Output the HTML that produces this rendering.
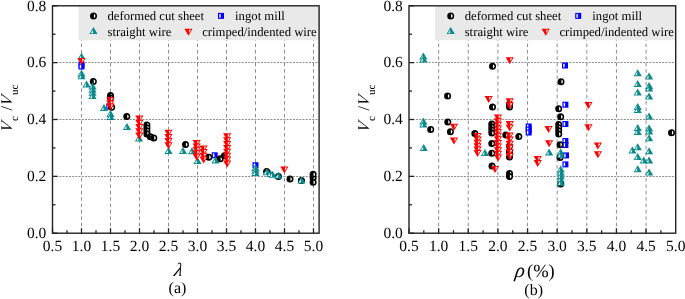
<!DOCTYPE html><html><head><meta charset="utf-8"><style>html,body{margin:0;padding:0;background:#fff;width:685px;height:299px;overflow:hidden}svg{display:block;will-change:transform}</style></head><body><svg width="685" height="299" viewBox="0 0 685 299" font-family="&quot;Liberation Serif&quot;, serif" text-rendering="geometricPrecision"><rect width="685" height="299" fill="#fff"/><line x1="81.50" y1="233.20" x2="81.50" y2="5.80" stroke="#8c8c8c" stroke-width="1" stroke-dasharray="3.5,2.9" stroke-dashoffset="-0.5"/><line x1="110.50" y1="233.20" x2="110.50" y2="5.80" stroke="#8c8c8c" stroke-width="1" stroke-dasharray="3.5,2.9" stroke-dashoffset="-0.5"/><line x1="139.50" y1="233.20" x2="139.50" y2="5.80" stroke="#8c8c8c" stroke-width="1" stroke-dasharray="3.5,2.9" stroke-dashoffset="-0.5"/><line x1="168.50" y1="233.20" x2="168.50" y2="5.80" stroke="#8c8c8c" stroke-width="1" stroke-dasharray="3.5,2.9" stroke-dashoffset="-0.5"/><line x1="197.50" y1="233.20" x2="197.50" y2="5.80" stroke="#8c8c8c" stroke-width="1" stroke-dasharray="3.5,2.9" stroke-dashoffset="-0.5"/><line x1="226.50" y1="233.20" x2="226.50" y2="5.80" stroke="#8c8c8c" stroke-width="1" stroke-dasharray="3.5,2.9" stroke-dashoffset="-0.5"/><line x1="255.50" y1="233.20" x2="255.50" y2="5.80" stroke="#8c8c8c" stroke-width="1" stroke-dasharray="3.5,2.9" stroke-dashoffset="-0.5"/><line x1="284.50" y1="233.20" x2="284.50" y2="5.80" stroke="#8c8c8c" stroke-width="1" stroke-dasharray="3.5,2.9" stroke-dashoffset="-0.5"/><line x1="313.50" y1="233.20" x2="313.50" y2="5.80" stroke="#8c8c8c" stroke-width="1" stroke-dasharray="3.5,2.9" stroke-dashoffset="-0.5"/><line x1="53.00" y1="176.50" x2="319.10" y2="176.50" stroke="#8c8c8c" stroke-width="1" stroke-dasharray="2,1.2"/><line x1="53.00" y1="119.50" x2="319.10" y2="119.50" stroke="#8c8c8c" stroke-width="1" stroke-dasharray="2,1.2"/><line x1="53.00" y1="62.50" x2="319.10" y2="62.50" stroke="#8c8c8c" stroke-width="1" stroke-dasharray="2,1.2"/><rect x="78.50" y="5.80" width="240.60" height="34.40" fill="#e9e9e9"/><line x1="52.50" y1="233.20" x2="57.50" y2="233.20" stroke="#222222" stroke-width="1.3"/><line x1="52.50" y1="204.77" x2="55.50" y2="204.77" stroke="#222222" stroke-width="1.3"/><line x1="52.50" y1="176.35" x2="57.50" y2="176.35" stroke="#222222" stroke-width="1.3"/><line x1="52.50" y1="147.92" x2="55.50" y2="147.92" stroke="#222222" stroke-width="1.3"/><line x1="52.50" y1="119.50" x2="57.50" y2="119.50" stroke="#222222" stroke-width="1.3"/><line x1="52.50" y1="91.07" x2="55.50" y2="91.07" stroke="#222222" stroke-width="1.3"/><line x1="52.50" y1="62.65" x2="57.50" y2="62.65" stroke="#222222" stroke-width="1.3"/><line x1="52.50" y1="34.22" x2="55.50" y2="34.22" stroke="#222222" stroke-width="1.3"/><line x1="52.50" y1="5.80" x2="57.50" y2="5.80" stroke="#222222" stroke-width="1.3"/><line x1="52.50" y1="233.20" x2="52.50" y2="228.20" stroke="#222222" stroke-width="1.3"/><line x1="67.00" y1="233.20" x2="67.00" y2="230.20" stroke="#222222" stroke-width="1.3"/><line x1="81.50" y1="233.20" x2="81.50" y2="228.20" stroke="#222222" stroke-width="1.3"/><line x1="96.00" y1="233.20" x2="96.00" y2="230.20" stroke="#222222" stroke-width="1.3"/><line x1="110.50" y1="233.20" x2="110.50" y2="228.20" stroke="#222222" stroke-width="1.3"/><line x1="125.00" y1="233.20" x2="125.00" y2="230.20" stroke="#222222" stroke-width="1.3"/><line x1="139.50" y1="233.20" x2="139.50" y2="228.20" stroke="#222222" stroke-width="1.3"/><line x1="154.00" y1="233.20" x2="154.00" y2="230.20" stroke="#222222" stroke-width="1.3"/><line x1="168.50" y1="233.20" x2="168.50" y2="228.20" stroke="#222222" stroke-width="1.3"/><line x1="183.00" y1="233.20" x2="183.00" y2="230.20" stroke="#222222" stroke-width="1.3"/><line x1="197.50" y1="233.20" x2="197.50" y2="228.20" stroke="#222222" stroke-width="1.3"/><line x1="212.00" y1="233.20" x2="212.00" y2="230.20" stroke="#222222" stroke-width="1.3"/><line x1="226.50" y1="233.20" x2="226.50" y2="228.20" stroke="#222222" stroke-width="1.3"/><line x1="241.00" y1="233.20" x2="241.00" y2="230.20" stroke="#222222" stroke-width="1.3"/><line x1="255.50" y1="233.20" x2="255.50" y2="228.20" stroke="#222222" stroke-width="1.3"/><line x1="270.00" y1="233.20" x2="270.00" y2="230.20" stroke="#222222" stroke-width="1.3"/><line x1="284.50" y1="233.20" x2="284.50" y2="228.20" stroke="#222222" stroke-width="1.3"/><line x1="299.00" y1="233.20" x2="299.00" y2="230.20" stroke="#222222" stroke-width="1.3"/><line x1="313.50" y1="233.20" x2="313.50" y2="228.20" stroke="#222222" stroke-width="1.3"/><rect x="52.50" y="5.80" width="266.60" height="227.40" fill="none" stroke="#222222" stroke-width="1.4"/><text x="46.30" y="238.00" font-size="15.5" text-anchor="end">0.0</text><text x="46.30" y="181.15" font-size="15.5" text-anchor="end">0.2</text><text x="46.30" y="124.30" font-size="15.5" text-anchor="end">0.4</text><text x="46.30" y="67.45" font-size="15.5" text-anchor="end">0.6</text><text x="46.30" y="10.60" font-size="15.5" text-anchor="end">0.8</text><text x="52.50" y="251.0" font-size="15.5" text-anchor="middle">0.5</text><text x="81.50" y="251.0" font-size="15.5" text-anchor="middle">1.0</text><text x="110.50" y="251.0" font-size="15.5" text-anchor="middle">1.5</text><text x="139.50" y="251.0" font-size="15.5" text-anchor="middle">2.0</text><text x="168.50" y="251.0" font-size="15.5" text-anchor="middle">2.5</text><text x="197.50" y="251.0" font-size="15.5" text-anchor="middle">3.0</text><text x="226.50" y="251.0" font-size="15.5" text-anchor="middle">3.5</text><text x="255.50" y="251.0" font-size="15.5" text-anchor="middle">4.0</text><text x="284.50" y="251.0" font-size="15.5" text-anchor="middle">4.5</text><text x="313.50" y="251.0" font-size="15.5" text-anchor="middle">5.0</text><line x1="438.63" y1="233.20" x2="438.63" y2="5.80" stroke="#8c8c8c" stroke-width="1" stroke-dasharray="3.5,2.9" stroke-dashoffset="-0.5"/><line x1="468.27" y1="233.20" x2="468.27" y2="5.80" stroke="#8c8c8c" stroke-width="1" stroke-dasharray="3.5,2.9" stroke-dashoffset="-0.5"/><line x1="497.90" y1="233.20" x2="497.90" y2="5.80" stroke="#8c8c8c" stroke-width="1" stroke-dasharray="3.5,2.9" stroke-dashoffset="-0.5"/><line x1="527.54" y1="233.20" x2="527.54" y2="5.80" stroke="#8c8c8c" stroke-width="1" stroke-dasharray="3.5,2.9" stroke-dashoffset="-0.5"/><line x1="557.17" y1="233.20" x2="557.17" y2="5.80" stroke="#8c8c8c" stroke-width="1" stroke-dasharray="3.5,2.9" stroke-dashoffset="-0.5"/><line x1="586.81" y1="233.20" x2="586.81" y2="5.80" stroke="#8c8c8c" stroke-width="1" stroke-dasharray="3.5,2.9" stroke-dashoffset="-0.5"/><line x1="616.45" y1="233.20" x2="616.45" y2="5.80" stroke="#8c8c8c" stroke-width="1" stroke-dasharray="3.5,2.9" stroke-dashoffset="-0.5"/><line x1="646.08" y1="233.20" x2="646.08" y2="5.80" stroke="#8c8c8c" stroke-width="1" stroke-dasharray="3.5,2.9" stroke-dashoffset="-0.5"/><line x1="409.50" y1="176.50" x2="675.70" y2="176.50" stroke="#8c8c8c" stroke-width="1" stroke-dasharray="2,1.2"/><line x1="409.50" y1="119.50" x2="675.70" y2="119.50" stroke="#8c8c8c" stroke-width="1" stroke-dasharray="2,1.2"/><line x1="409.50" y1="62.50" x2="675.70" y2="62.50" stroke="#8c8c8c" stroke-width="1" stroke-dasharray="2,1.2"/><rect x="435.00" y="5.80" width="240.70" height="34.40" fill="#e9e9e9"/><line x1="409.00" y1="233.20" x2="414.00" y2="233.20" stroke="#222222" stroke-width="1.3"/><line x1="409.00" y1="204.77" x2="412.00" y2="204.77" stroke="#222222" stroke-width="1.3"/><line x1="409.00" y1="176.35" x2="414.00" y2="176.35" stroke="#222222" stroke-width="1.3"/><line x1="409.00" y1="147.92" x2="412.00" y2="147.92" stroke="#222222" stroke-width="1.3"/><line x1="409.00" y1="119.50" x2="414.00" y2="119.50" stroke="#222222" stroke-width="1.3"/><line x1="409.00" y1="91.07" x2="412.00" y2="91.07" stroke="#222222" stroke-width="1.3"/><line x1="409.00" y1="62.65" x2="414.00" y2="62.65" stroke="#222222" stroke-width="1.3"/><line x1="409.00" y1="34.22" x2="412.00" y2="34.22" stroke="#222222" stroke-width="1.3"/><line x1="409.00" y1="5.80" x2="414.00" y2="5.80" stroke="#222222" stroke-width="1.3"/><line x1="409.00" y1="233.20" x2="409.00" y2="228.20" stroke="#222222" stroke-width="1.3"/><line x1="423.82" y1="233.20" x2="423.82" y2="230.20" stroke="#222222" stroke-width="1.3"/><line x1="438.63" y1="233.20" x2="438.63" y2="228.20" stroke="#222222" stroke-width="1.3"/><line x1="453.45" y1="233.20" x2="453.45" y2="230.20" stroke="#222222" stroke-width="1.3"/><line x1="468.27" y1="233.20" x2="468.27" y2="228.20" stroke="#222222" stroke-width="1.3"/><line x1="483.09" y1="233.20" x2="483.09" y2="230.20" stroke="#222222" stroke-width="1.3"/><line x1="497.90" y1="233.20" x2="497.90" y2="228.20" stroke="#222222" stroke-width="1.3"/><line x1="512.72" y1="233.20" x2="512.72" y2="230.20" stroke="#222222" stroke-width="1.3"/><line x1="527.54" y1="233.20" x2="527.54" y2="228.20" stroke="#222222" stroke-width="1.3"/><line x1="542.36" y1="233.20" x2="542.36" y2="230.20" stroke="#222222" stroke-width="1.3"/><line x1="557.17" y1="233.20" x2="557.17" y2="228.20" stroke="#222222" stroke-width="1.3"/><line x1="571.99" y1="233.20" x2="571.99" y2="230.20" stroke="#222222" stroke-width="1.3"/><line x1="586.81" y1="233.20" x2="586.81" y2="228.20" stroke="#222222" stroke-width="1.3"/><line x1="601.63" y1="233.20" x2="601.63" y2="230.20" stroke="#222222" stroke-width="1.3"/><line x1="616.45" y1="233.20" x2="616.45" y2="228.20" stroke="#222222" stroke-width="1.3"/><line x1="631.26" y1="233.20" x2="631.26" y2="230.20" stroke="#222222" stroke-width="1.3"/><line x1="646.08" y1="233.20" x2="646.08" y2="228.20" stroke="#222222" stroke-width="1.3"/><line x1="660.90" y1="233.20" x2="660.90" y2="230.20" stroke="#222222" stroke-width="1.3"/><rect x="409.00" y="5.80" width="266.70" height="227.40" fill="none" stroke="#222222" stroke-width="1.4"/><text x="402.80" y="238.00" font-size="15.5" text-anchor="end">0.0</text><text x="402.80" y="181.15" font-size="15.5" text-anchor="end">0.2</text><text x="402.80" y="124.30" font-size="15.5" text-anchor="end">0.4</text><text x="402.80" y="67.45" font-size="15.5" text-anchor="end">0.6</text><text x="402.80" y="10.60" font-size="15.5" text-anchor="end">0.8</text><text x="409.00" y="251.0" font-size="15.5" text-anchor="middle">0.5</text><text x="438.63" y="251.0" font-size="15.5" text-anchor="middle">1.0</text><text x="468.27" y="251.0" font-size="15.5" text-anchor="middle">1.5</text><text x="497.90" y="251.0" font-size="15.5" text-anchor="middle">2.0</text><text x="527.54" y="251.0" font-size="15.5" text-anchor="middle">2.5</text><text x="557.17" y="251.0" font-size="15.5" text-anchor="middle">3.0</text><text x="586.81" y="251.0" font-size="15.5" text-anchor="middle">3.5</text><text x="616.45" y="251.0" font-size="15.5" text-anchor="middle">4.0</text><text x="646.08" y="251.0" font-size="15.5" text-anchor="middle">4.5</text><text x="675.72" y="251.0" font-size="15.5" text-anchor="middle">5.0</text><g transform="translate(12.20,131) rotate(-90)" font-size="16.3"><text transform="translate(-1.9,0) skewX(-13)" font-style="italic">V</text><text x="9.95" y="5.6" font-size="11">c</text><text x="20.51" y="0">/</text><text transform="translate(24.3,0) skewX(-13)" font-style="italic">V</text><text x="36.01" y="5.6" font-size="11">uc</text></g><g transform="translate(369.00,131) rotate(-90)" font-size="16.3"><text transform="translate(-1.9,0) skewX(-13)" font-style="italic">V</text><text x="9.95" y="5.6" font-size="11">c</text><text x="20.51" y="0">/</text><text transform="translate(24.3,0) skewX(-13)" font-style="italic">V</text><text x="36.01" y="5.6" font-size="11">uc</text></g><text transform="translate(177.6,275.6) skewX(-12)" x="0" y="0" font-size="19" font-style="italic" text-anchor="middle">λ</text><text x="177.5" y="292.8" font-size="16" text-anchor="middle">(a)</text><text transform="translate(519.2,276.8) skewX(-8)" font-size="20" font-style="italic" text-anchor="middle">ρ</text><text x="540.9" y="276.9" font-size="18.5" text-anchor="middle">(%)</text><text x="533.7" y="294.8" font-size="16" text-anchor="middle">(b)</text><rect x="78.50" y="61.50" width="6.0" height="6.0" fill="#0000ff"/><rect x="79.75" y="62.70" width="1.45" height="3.60" fill="#fff"/><rect x="78.50" y="63.50" width="6.0" height="6.0" fill="#0000ff"/><rect x="79.75" y="64.70" width="1.45" height="3.60" fill="#fff"/><rect x="106.30" y="103.50" width="6.0" height="6.0" fill="#0000ff"/><rect x="107.55" y="104.70" width="1.45" height="3.60" fill="#fff"/><rect x="211.70" y="152.30" width="6.0" height="6.0" fill="#0000ff"/><rect x="212.95" y="153.50" width="1.45" height="3.60" fill="#fff"/><rect x="252.50" y="162.20" width="6.0" height="6.0" fill="#0000ff"/><rect x="253.75" y="163.40" width="1.45" height="3.60" fill="#fff"/><circle cx="93.30" cy="81.40" r="3.5" fill="#000000"/><path d="M93.75,79.55 A1.45,1.85 0 0 1 93.75,83.25 Z" fill="#fff"/><circle cx="110.50" cy="95.50" r="3.5" fill="#000000"/><path d="M110.95,93.65 A1.45,1.85 0 0 1 110.95,97.35 Z" fill="#fff"/><circle cx="110.50" cy="98.00" r="3.5" fill="#000000"/><path d="M110.95,96.15 A1.45,1.85 0 0 1 110.95,99.85 Z" fill="#fff"/><circle cx="111.60" cy="107.30" r="3.5" fill="#000000"/><path d="M112.05,105.45 A1.45,1.85 0 0 1 112.05,109.15 Z" fill="#fff"/><circle cx="126.80" cy="116.50" r="3.5" fill="#000000"/><path d="M127.25,114.65 A1.45,1.85 0 0 1 127.25,118.35 Z" fill="#fff"/><circle cx="146.90" cy="124.90" r="3.5" fill="#000000"/><path d="M147.35,123.05 A1.45,1.85 0 0 1 147.35,126.75 Z" fill="#fff"/><circle cx="146.90" cy="127.90" r="3.5" fill="#000000"/><path d="M147.35,126.05 A1.45,1.85 0 0 1 147.35,129.75 Z" fill="#fff"/><circle cx="146.90" cy="130.90" r="3.5" fill="#000000"/><path d="M147.35,129.05 A1.45,1.85 0 0 1 147.35,132.75 Z" fill="#fff"/><circle cx="146.90" cy="133.90" r="3.5" fill="#000000"/><path d="M147.35,132.05 A1.45,1.85 0 0 1 147.35,135.75 Z" fill="#fff"/><circle cx="150.30" cy="136.80" r="3.5" fill="#000000"/><path d="M150.75,134.95 A1.45,1.85 0 0 1 150.75,138.65 Z" fill="#fff"/><circle cx="153.80" cy="137.90" r="3.5" fill="#000000"/><path d="M154.25,136.05 A1.45,1.85 0 0 1 154.25,139.75 Z" fill="#fff"/><circle cx="185.50" cy="144.50" r="3.5" fill="#000000"/><path d="M185.95,142.65 A1.45,1.85 0 0 1 185.95,146.35 Z" fill="#fff"/><circle cx="208.80" cy="157.20" r="3.5" fill="#000000"/><path d="M209.25,155.35 A1.45,1.85 0 0 1 209.25,159.05 Z" fill="#fff"/><circle cx="220.20" cy="158.80" r="3.5" fill="#000000"/><path d="M220.65,156.95 A1.45,1.85 0 0 1 220.65,160.65 Z" fill="#fff"/><circle cx="224.40" cy="155.80" r="3.5" fill="#000000"/><path d="M224.85,153.95 A1.45,1.85 0 0 1 224.85,157.65 Z" fill="#fff"/><circle cx="266.60" cy="171.40" r="3.5" fill="#000000"/><path d="M267.05,169.55 A1.45,1.85 0 0 1 267.05,173.25 Z" fill="#fff"/><circle cx="278.40" cy="176.50" r="3.5" fill="#000000"/><path d="M278.85,174.65 A1.45,1.85 0 0 1 278.85,178.35 Z" fill="#fff"/><circle cx="290.00" cy="179.00" r="3.5" fill="#000000"/><path d="M290.45,177.15 A1.45,1.85 0 0 1 290.45,180.85 Z" fill="#fff"/><circle cx="301.40" cy="180.60" r="3.5" fill="#000000"/><path d="M301.85,178.75 A1.45,1.85 0 0 1 301.85,182.45 Z" fill="#fff"/><circle cx="313.10" cy="178.00" r="3.5" fill="#000000"/><path d="M313.55,176.15 A1.45,1.85 0 0 1 313.55,179.85 Z" fill="#fff"/><circle cx="313.10" cy="174.30" r="3.5" fill="#000000"/><path d="M313.55,172.45 A1.45,1.85 0 0 1 313.55,176.15 Z" fill="#fff"/><circle cx="313.10" cy="182.30" r="3.5" fill="#000000"/><path d="M313.55,180.45 A1.45,1.85 0 0 1 313.55,184.15 Z" fill="#fff"/><path d="M81.50,52.70 L85.60,59.70 L77.40,59.70 Z" fill="#0a8a8a"/><path d="M80.90,55.50 L80.90,58.75 L78.95,58.75 Z" fill="#fff"/><path d="M81.50,69.70 L85.60,76.70 L77.40,76.70 Z" fill="#0a8a8a"/><path d="M80.90,72.50 L80.90,75.75 L78.95,75.75 Z" fill="#fff"/><path d="M81.50,72.30 L85.60,79.30 L77.40,79.30 Z" fill="#0a8a8a"/><path d="M80.90,75.10 L80.90,78.35 L78.95,78.35 Z" fill="#fff"/><path d="M86.50,80.50 L90.60,87.50 L82.40,87.50 Z" fill="#0a8a8a"/><path d="M85.90,83.30 L85.90,86.55 L83.95,86.55 Z" fill="#fff"/><path d="M92.50,82.40 L96.60,89.40 L88.40,89.40 Z" fill="#0a8a8a"/><path d="M91.90,85.20 L91.90,88.45 L89.95,88.45 Z" fill="#fff"/><path d="M92.50,85.63 L96.60,92.63 L88.40,92.63 Z" fill="#0a8a8a"/><path d="M91.90,88.43 L91.90,91.68 L89.95,91.68 Z" fill="#fff"/><path d="M92.50,88.87 L96.60,95.87 L88.40,95.87 Z" fill="#0a8a8a"/><path d="M91.90,91.67 L91.90,94.92 L89.95,94.92 Z" fill="#fff"/><path d="M92.50,92.10 L96.60,99.10 L88.40,99.10 Z" fill="#0a8a8a"/><path d="M91.90,94.90 L91.90,98.15 L89.95,98.15 Z" fill="#fff"/><path d="M104.00,104.00 L108.10,111.00 L99.90,111.00 Z" fill="#0a8a8a"/><path d="M103.40,106.80 L103.40,110.05 L101.45,110.05 Z" fill="#fff"/><path d="M110.50,110.00 L114.60,117.00 L106.40,117.00 Z" fill="#0a8a8a"/><path d="M109.90,112.80 L109.90,116.05 L107.95,116.05 Z" fill="#fff"/><path d="M110.50,113.00 L114.60,120.00 L106.40,120.00 Z" fill="#0a8a8a"/><path d="M109.90,115.80 L109.90,119.05 L107.95,119.05 Z" fill="#fff"/><path d="M127.00,122.90 L131.10,129.90 L122.90,129.90 Z" fill="#0a8a8a"/><path d="M126.40,125.70 L126.40,128.95 L124.45,128.95 Z" fill="#fff"/><path d="M139.00,134.50 L143.10,141.50 L134.90,141.50 Z" fill="#0a8a8a"/><path d="M138.40,137.30 L138.40,140.55 L136.45,140.55 Z" fill="#fff"/><path d="M168.50,147.00 L172.60,154.00 L164.40,154.00 Z" fill="#0a8a8a"/><path d="M167.90,149.80 L167.90,153.05 L165.95,153.05 Z" fill="#fff"/><path d="M183.00,147.00 L187.10,154.00 L178.90,154.00 Z" fill="#0a8a8a"/><path d="M182.40,149.80 L182.40,153.05 L180.45,153.05 Z" fill="#fff"/><path d="M192.00,147.20 L196.10,154.20 L187.90,154.20 Z" fill="#0a8a8a"/><path d="M191.40,150.00 L191.40,153.25 L189.45,153.25 Z" fill="#fff"/><path d="M197.50,157.00 L201.60,164.00 L193.40,164.00 Z" fill="#0a8a8a"/><path d="M196.90,159.80 L196.90,163.05 L194.95,163.05 Z" fill="#fff"/><path d="M215.50,156.50 L219.60,163.50 L211.40,163.50 Z" fill="#0a8a8a"/><path d="M214.90,159.30 L214.90,162.55 L212.95,162.55 Z" fill="#fff"/><path d="M255.50,164.00 L259.60,171.00 L251.40,171.00 Z" fill="#0a8a8a"/><path d="M254.90,166.80 L254.90,170.05 L252.95,170.05 Z" fill="#fff"/><path d="M255.50,166.50 L259.60,173.50 L251.40,173.50 Z" fill="#0a8a8a"/><path d="M254.90,169.30 L254.90,172.55 L252.95,172.55 Z" fill="#fff"/><path d="M255.50,169.00 L259.60,176.00 L251.40,176.00 Z" fill="#0a8a8a"/><path d="M254.90,171.80 L254.90,175.05 L252.95,175.05 Z" fill="#fff"/><path d="M266.70,168.30 L270.80,175.30 L262.60,175.30 Z" fill="#0a8a8a"/><path d="M266.10,171.10 L266.10,174.35 L264.15,174.35 Z" fill="#fff"/><path d="M270.50,169.90 L274.60,176.90 L266.40,176.90 Z" fill="#0a8a8a"/><path d="M269.90,172.70 L269.90,175.95 L267.95,175.95 Z" fill="#fff"/><path d="M272.60,170.80 L276.70,177.80 L268.50,177.80 Z" fill="#0a8a8a"/><path d="M272.00,173.60 L272.00,176.85 L270.05,176.85 Z" fill="#fff"/><path d="M278.40,171.80 L282.50,178.80 L274.30,178.80 Z" fill="#0a8a8a"/><path d="M277.80,174.60 L277.80,177.85 L275.85,177.85 Z" fill="#fff"/><path d="M301.40,176.50 L305.50,183.50 L297.30,183.50 Z" fill="#0a8a8a"/><path d="M300.80,179.30 L300.80,182.55 L298.85,182.55 Z" fill="#fff"/><path d="M77.40,58.00 L85.60,58.00 L81.50,65.00 Z" fill="#ff0000"/><path d="M82.10,59.00 L84.05,59.00 L82.10,62.20 Z" fill="#fff"/><path d="M106.40,97.10 L114.60,97.10 L110.50,104.10 Z" fill="#ff0000"/><path d="M111.10,98.10 L113.05,98.10 L111.10,101.30 Z" fill="#fff"/><path d="M106.20,100.40 L114.40,100.40 L110.30,107.40 Z" fill="#ff0000"/><path d="M110.90,101.40 L112.85,101.40 L110.90,104.60 Z" fill="#fff"/><path d="M106.40,103.50 L114.60,103.50 L110.50,110.50 Z" fill="#ff0000"/><path d="M111.10,104.50 L113.05,104.50 L111.10,107.70 Z" fill="#fff"/><path d="M135.30,115.50 L143.50,115.50 L139.40,122.50 Z" fill="#ff0000"/><path d="M140.00,116.50 L141.95,116.50 L140.00,119.70 Z" fill="#fff"/><path d="M135.30,119.78 L143.50,119.78 L139.40,126.78 Z" fill="#ff0000"/><path d="M140.00,120.78 L141.95,120.78 L140.00,123.98 Z" fill="#fff"/><path d="M135.30,124.05 L143.50,124.05 L139.40,131.05 Z" fill="#ff0000"/><path d="M140.00,125.05 L141.95,125.05 L140.00,128.25 Z" fill="#fff"/><path d="M135.30,128.32 L143.50,128.32 L139.40,135.32 Z" fill="#ff0000"/><path d="M140.00,129.32 L141.95,129.32 L140.00,132.52 Z" fill="#fff"/><path d="M135.30,132.60 L143.50,132.60 L139.40,139.60 Z" fill="#ff0000"/><path d="M140.00,133.60 L141.95,133.60 L140.00,136.80 Z" fill="#fff"/><path d="M164.40,129.70 L172.60,129.70 L168.50,136.70 Z" fill="#ff0000"/><path d="M169.10,130.70 L171.05,130.70 L169.10,133.90 Z" fill="#fff"/><path d="M164.40,133.90 L172.60,133.90 L168.50,140.90 Z" fill="#ff0000"/><path d="M169.10,134.90 L171.05,134.90 L169.10,138.10 Z" fill="#fff"/><path d="M164.40,138.10 L172.60,138.10 L168.50,145.10 Z" fill="#ff0000"/><path d="M169.10,139.10 L171.05,139.10 L169.10,142.30 Z" fill="#fff"/><path d="M164.40,142.30 L172.60,142.30 L168.50,149.30 Z" fill="#ff0000"/><path d="M169.10,143.30 L171.05,143.30 L169.10,146.50 Z" fill="#fff"/><path d="M192.60,140.00 L200.80,140.00 L196.70,147.00 Z" fill="#ff0000"/><path d="M197.30,141.00 L199.25,141.00 L197.30,144.20 Z" fill="#fff"/><path d="M192.60,143.43 L200.80,143.43 L196.70,150.43 Z" fill="#ff0000"/><path d="M197.30,144.43 L199.25,144.43 L197.30,147.62 Z" fill="#fff"/><path d="M192.60,146.85 L200.80,146.85 L196.70,153.85 Z" fill="#ff0000"/><path d="M197.30,147.85 L199.25,147.85 L197.30,151.05 Z" fill="#fff"/><path d="M192.60,150.27 L200.80,150.27 L196.70,157.27 Z" fill="#ff0000"/><path d="M197.30,151.27 L199.25,151.27 L197.30,154.47 Z" fill="#fff"/><path d="M192.60,153.70 L200.80,153.70 L196.70,160.70 Z" fill="#ff0000"/><path d="M197.30,154.70 L199.25,154.70 L197.30,157.90 Z" fill="#fff"/><path d="M199.50,145.40 L207.70,145.40 L203.60,152.40 Z" fill="#ff0000"/><path d="M204.20,146.40 L206.15,146.40 L204.20,149.60 Z" fill="#fff"/><path d="M199.50,149.07 L207.70,149.07 L203.60,156.07 Z" fill="#ff0000"/><path d="M204.20,150.07 L206.15,150.07 L204.20,153.27 Z" fill="#fff"/><path d="M199.50,152.73 L207.70,152.73 L203.60,159.73 Z" fill="#ff0000"/><path d="M204.20,153.73 L206.15,153.73 L204.20,156.93 Z" fill="#fff"/><path d="M199.50,156.40 L207.70,156.40 L203.60,163.40 Z" fill="#ff0000"/><path d="M204.20,157.40 L206.15,157.40 L204.20,160.60 Z" fill="#fff"/><path d="M223.10,133.30 L231.30,133.30 L227.20,140.30 Z" fill="#ff0000"/><path d="M227.80,134.30 L229.75,134.30 L227.80,137.50 Z" fill="#fff"/><path d="M223.10,137.17 L231.30,137.17 L227.20,144.17 Z" fill="#ff0000"/><path d="M227.80,138.17 L229.75,138.17 L227.80,141.37 Z" fill="#fff"/><path d="M223.10,141.04 L231.30,141.04 L227.20,148.04 Z" fill="#ff0000"/><path d="M227.80,142.04 L229.75,142.04 L227.80,145.24 Z" fill="#fff"/><path d="M223.10,144.91 L231.30,144.91 L227.20,151.91 Z" fill="#ff0000"/><path d="M227.80,145.91 L229.75,145.91 L227.80,149.11 Z" fill="#fff"/><path d="M223.10,148.79 L231.30,148.79 L227.20,155.79 Z" fill="#ff0000"/><path d="M227.80,149.79 L229.75,149.79 L227.80,152.99 Z" fill="#fff"/><path d="M223.10,152.66 L231.30,152.66 L227.20,159.66 Z" fill="#ff0000"/><path d="M227.80,153.66 L229.75,153.66 L227.80,156.86 Z" fill="#fff"/><path d="M223.10,156.53 L231.30,156.53 L227.20,163.53 Z" fill="#ff0000"/><path d="M227.80,157.53 L229.75,157.53 L227.80,160.73 Z" fill="#fff"/><path d="M223.10,160.40 L231.30,160.40 L227.20,167.40 Z" fill="#ff0000"/><path d="M227.80,161.40 L229.75,161.40 L227.80,164.60 Z" fill="#fff"/><path d="M280.30,166.50 L288.50,166.50 L284.40,173.50 Z" fill="#ff0000"/><path d="M285.00,167.50 L286.95,167.50 L285.00,170.70 Z" fill="#fff"/><rect x="562.00" y="62.50" width="6.0" height="6.0" fill="#0000ff"/><rect x="563.25" y="63.70" width="1.45" height="3.60" fill="#fff"/><rect x="562.40" y="101.70" width="6.0" height="6.0" fill="#0000ff"/><rect x="563.65" y="102.90" width="1.45" height="3.60" fill="#fff"/><rect x="562.40" y="121.00" width="6.0" height="6.0" fill="#0000ff"/><rect x="563.65" y="122.20" width="1.45" height="3.60" fill="#fff"/><rect x="562.40" y="138.00" width="6.0" height="6.0" fill="#0000ff"/><rect x="563.65" y="139.20" width="1.45" height="3.60" fill="#fff"/><rect x="562.40" y="142.00" width="6.0" height="6.0" fill="#0000ff"/><rect x="563.65" y="143.20" width="1.45" height="3.60" fill="#fff"/><rect x="563.00" y="152.40" width="6.0" height="6.0" fill="#0000ff"/><rect x="564.25" y="153.60" width="1.45" height="3.60" fill="#fff"/><rect x="562.40" y="161.40" width="6.0" height="6.0" fill="#0000ff"/><rect x="563.65" y="162.60" width="1.45" height="3.60" fill="#fff"/><rect x="525.70" y="123.50" width="6.0" height="6.0" fill="#0000ff"/><rect x="526.95" y="124.70" width="1.45" height="3.60" fill="#fff"/><rect x="525.70" y="126.50" width="6.0" height="6.0" fill="#0000ff"/><rect x="526.95" y="127.70" width="1.45" height="3.60" fill="#fff"/><rect x="525.70" y="129.50" width="6.0" height="6.0" fill="#0000ff"/><rect x="526.95" y="130.70" width="1.45" height="3.60" fill="#fff"/><circle cx="447.60" cy="96.00" r="3.5" fill="#000000"/><path d="M448.05,94.15 A1.45,1.85 0 0 1 448.05,97.85 Z" fill="#fff"/><circle cx="430.70" cy="129.40" r="3.5" fill="#000000"/><path d="M431.15,127.55 A1.45,1.85 0 0 1 431.15,131.25 Z" fill="#fff"/><circle cx="447.80" cy="122.00" r="3.5" fill="#000000"/><path d="M448.25,120.15 A1.45,1.85 0 0 1 448.25,123.85 Z" fill="#fff"/><circle cx="450.40" cy="131.70" r="3.5" fill="#000000"/><path d="M450.85,129.85 A1.45,1.85 0 0 1 450.85,133.55 Z" fill="#fff"/><circle cx="474.80" cy="133.60" r="3.5" fill="#000000"/><path d="M475.25,131.75 A1.45,1.85 0 0 1 475.25,135.45 Z" fill="#fff"/><circle cx="492.50" cy="66.30" r="3.5" fill="#000000"/><path d="M492.95,64.45 A1.45,1.85 0 0 1 492.95,68.15 Z" fill="#fff"/><circle cx="492.50" cy="107.00" r="3.5" fill="#000000"/><path d="M492.95,105.15 A1.45,1.85 0 0 1 492.95,108.85 Z" fill="#fff"/><circle cx="491.80" cy="124.00" r="3.5" fill="#000000"/><path d="M492.25,122.15 A1.45,1.85 0 0 1 492.25,125.85 Z" fill="#fff"/><circle cx="491.80" cy="127.00" r="3.5" fill="#000000"/><path d="M492.25,125.15 A1.45,1.85 0 0 1 492.25,128.85 Z" fill="#fff"/><circle cx="491.80" cy="130.00" r="3.5" fill="#000000"/><path d="M492.25,128.15 A1.45,1.85 0 0 1 492.25,131.85 Z" fill="#fff"/><circle cx="491.80" cy="133.00" r="3.5" fill="#000000"/><path d="M492.25,131.15 A1.45,1.85 0 0 1 492.25,134.85 Z" fill="#fff"/><circle cx="491.80" cy="143.50" r="3.5" fill="#000000"/><path d="M492.25,141.65 A1.45,1.85 0 0 1 492.25,145.35 Z" fill="#fff"/><circle cx="491.80" cy="153.20" r="3.5" fill="#000000"/><path d="M492.25,151.35 A1.45,1.85 0 0 1 492.25,155.05 Z" fill="#fff"/><circle cx="492.00" cy="166.00" r="3.5" fill="#000000"/><path d="M492.45,164.15 A1.45,1.85 0 0 1 492.45,167.85 Z" fill="#fff"/><circle cx="505.80" cy="135.00" r="3.5" fill="#000000"/><path d="M506.25,133.15 A1.45,1.85 0 0 1 506.25,136.85 Z" fill="#fff"/><circle cx="509.50" cy="104.00" r="3.5" fill="#000000"/><path d="M509.95,102.15 A1.45,1.85 0 0 1 509.95,105.85 Z" fill="#fff"/><circle cx="509.50" cy="107.00" r="3.5" fill="#000000"/><path d="M509.95,105.15 A1.45,1.85 0 0 1 509.95,108.85 Z" fill="#fff"/><circle cx="509.50" cy="146.00" r="3.5" fill="#000000"/><path d="M509.95,144.15 A1.45,1.85 0 0 1 509.95,147.85 Z" fill="#fff"/><circle cx="509.50" cy="152.00" r="3.5" fill="#000000"/><path d="M509.95,150.15 A1.45,1.85 0 0 1 509.95,153.85 Z" fill="#fff"/><circle cx="509.50" cy="157.00" r="3.5" fill="#000000"/><path d="M509.95,155.15 A1.45,1.85 0 0 1 509.95,158.85 Z" fill="#fff"/><circle cx="509.50" cy="173.50" r="3.5" fill="#000000"/><path d="M509.95,171.65 A1.45,1.85 0 0 1 509.95,175.35 Z" fill="#fff"/><circle cx="509.50" cy="176.50" r="3.5" fill="#000000"/><path d="M509.95,174.65 A1.45,1.85 0 0 1 509.95,178.35 Z" fill="#fff"/><circle cx="518.80" cy="136.60" r="3.5" fill="#000000"/><path d="M519.25,134.75 A1.45,1.85 0 0 1 519.25,138.45 Z" fill="#fff"/><circle cx="561.00" cy="81.70" r="3.5" fill="#000000"/><path d="M561.45,79.85 A1.45,1.85 0 0 1 561.45,83.55 Z" fill="#fff"/><circle cx="558.70" cy="108.70" r="3.5" fill="#000000"/><path d="M559.15,106.85 A1.45,1.85 0 0 1 559.15,110.55 Z" fill="#fff"/><circle cx="560.70" cy="116.80" r="3.5" fill="#000000"/><path d="M561.15,114.95 A1.45,1.85 0 0 1 561.15,118.65 Z" fill="#fff"/><circle cx="558.70" cy="124.50" r="3.5" fill="#000000"/><path d="M559.15,122.65 A1.45,1.85 0 0 1 559.15,126.35 Z" fill="#fff"/><circle cx="558.70" cy="127.67" r="3.5" fill="#000000"/><path d="M559.15,125.82 A1.45,1.85 0 0 1 559.15,129.52 Z" fill="#fff"/><circle cx="558.70" cy="130.83" r="3.5" fill="#000000"/><path d="M559.15,128.98 A1.45,1.85 0 0 1 559.15,132.68 Z" fill="#fff"/><circle cx="558.70" cy="134.00" r="3.5" fill="#000000"/><path d="M559.15,132.15 A1.45,1.85 0 0 1 559.15,135.85 Z" fill="#fff"/><circle cx="560.00" cy="144.70" r="3.5" fill="#000000"/><path d="M560.45,142.85 A1.45,1.85 0 0 1 560.45,146.55 Z" fill="#fff"/><circle cx="560.00" cy="157.40" r="3.5" fill="#000000"/><path d="M560.45,155.55 A1.45,1.85 0 0 1 560.45,159.25 Z" fill="#fff"/><circle cx="560.70" cy="184.00" r="3.5" fill="#000000"/><path d="M561.15,182.15 A1.45,1.85 0 0 1 561.15,185.85 Z" fill="#fff"/><circle cx="671.50" cy="132.70" r="3.5" fill="#000000"/><path d="M671.95,130.85 A1.45,1.85 0 0 1 671.95,134.55 Z" fill="#fff"/><path d="M423.40,52.50 L427.50,59.50 L419.30,59.50 Z" fill="#0a8a8a"/><path d="M422.80,55.30 L422.80,58.55 L420.85,58.55 Z" fill="#fff"/><path d="M423.40,55.50 L427.50,62.50 L419.30,62.50 Z" fill="#0a8a8a"/><path d="M422.80,58.30 L422.80,61.55 L420.85,61.55 Z" fill="#fff"/><path d="M423.40,117.50 L427.50,124.50 L419.30,124.50 Z" fill="#0a8a8a"/><path d="M422.80,120.30 L422.80,123.55 L420.85,123.55 Z" fill="#fff"/><path d="M423.40,120.50 L427.50,127.50 L419.30,127.50 Z" fill="#0a8a8a"/><path d="M422.80,123.30 L422.80,126.55 L420.85,126.55 Z" fill="#fff"/><path d="M423.70,143.90 L427.80,150.90 L419.60,150.90 Z" fill="#0a8a8a"/><path d="M423.10,146.70 L423.10,149.95 L421.15,149.95 Z" fill="#fff"/><path d="M484.90,148.90 L489.00,155.90 L480.80,155.90 Z" fill="#0a8a8a"/><path d="M484.30,151.70 L484.30,154.95 L482.35,154.95 Z" fill="#fff"/><path d="M549.10,148.50 L553.20,155.50 L545.00,155.50 Z" fill="#0a8a8a"/><path d="M548.50,151.30 L548.50,154.55 L546.55,154.55 Z" fill="#fff"/><path d="M560.70,148.50 L564.80,155.50 L556.60,155.50 Z" fill="#0a8a8a"/><path d="M560.10,151.30 L560.10,154.55 L558.15,154.55 Z" fill="#fff"/><path d="M560.70,165.50 L564.80,172.50 L556.60,172.50 Z" fill="#0a8a8a"/><path d="M560.10,168.30 L560.10,171.55 L558.15,171.55 Z" fill="#fff"/><path d="M560.70,168.82 L564.80,175.82 L556.60,175.82 Z" fill="#0a8a8a"/><path d="M560.10,171.62 L560.10,174.88 L558.15,174.88 Z" fill="#fff"/><path d="M560.70,172.15 L564.80,179.15 L556.60,179.15 Z" fill="#0a8a8a"/><path d="M560.10,174.95 L560.10,178.20 L558.15,178.20 Z" fill="#fff"/><path d="M560.70,175.48 L564.80,182.48 L556.60,182.48 Z" fill="#0a8a8a"/><path d="M560.10,178.28 L560.10,181.53 L558.15,181.53 Z" fill="#fff"/><path d="M560.70,178.80 L564.80,185.80 L556.60,185.80 Z" fill="#0a8a8a"/><path d="M560.10,181.60 L560.10,184.85 L558.15,184.85 Z" fill="#fff"/><path d="M560.70,151.00 L564.80,158.00 L556.60,158.00 Z" fill="#0a8a8a"/><path d="M560.10,153.80 L560.10,157.05 L558.15,157.05 Z" fill="#fff"/><path d="M637.70,69.30 L641.80,76.30 L633.60,76.30 Z" fill="#0a8a8a"/><path d="M637.10,72.10 L637.10,75.35 L635.15,75.35 Z" fill="#fff"/><path d="M637.70,79.90 L641.80,86.90 L633.60,86.90 Z" fill="#0a8a8a"/><path d="M637.10,82.70 L637.10,85.95 L635.15,85.95 Z" fill="#fff"/><path d="M637.70,88.60 L641.80,95.60 L633.60,95.60 Z" fill="#0a8a8a"/><path d="M637.10,91.40 L637.10,94.65 L635.15,94.65 Z" fill="#fff"/><path d="M637.70,103.00 L641.80,110.00 L633.60,110.00 Z" fill="#0a8a8a"/><path d="M637.10,105.80 L637.10,109.05 L635.15,109.05 Z" fill="#fff"/><path d="M637.70,106.00 L641.80,113.00 L633.60,113.00 Z" fill="#0a8a8a"/><path d="M637.10,108.80 L637.10,112.05 L635.15,112.05 Z" fill="#fff"/><path d="M637.70,124.00 L641.80,131.00 L633.60,131.00 Z" fill="#0a8a8a"/><path d="M637.10,126.80 L637.10,130.05 L635.15,130.05 Z" fill="#fff"/><path d="M637.70,128.00 L641.80,135.00 L633.60,135.00 Z" fill="#0a8a8a"/><path d="M637.10,130.80 L637.10,134.05 L635.15,134.05 Z" fill="#fff"/><path d="M637.70,143.20 L641.80,150.20 L633.60,150.20 Z" fill="#0a8a8a"/><path d="M637.10,146.00 L637.10,149.25 L635.15,149.25 Z" fill="#fff"/><path d="M637.70,153.10 L641.80,160.10 L633.60,160.10 Z" fill="#0a8a8a"/><path d="M637.10,155.90 L637.10,159.15 L635.15,159.15 Z" fill="#fff"/><path d="M637.70,165.20 L641.80,172.20 L633.60,172.20 Z" fill="#0a8a8a"/><path d="M637.10,168.00 L637.10,171.25 L635.15,171.25 Z" fill="#fff"/><path d="M632.40,146.50 L636.50,153.50 L628.30,153.50 Z" fill="#0a8a8a"/><path d="M631.80,149.30 L631.80,152.55 L629.85,152.55 Z" fill="#fff"/><path d="M649.10,72.50 L653.20,79.50 L645.00,79.50 Z" fill="#0a8a8a"/><path d="M648.50,75.30 L648.50,78.55 L646.55,78.55 Z" fill="#fff"/><path d="M649.10,81.90 L653.20,88.90 L645.00,88.90 Z" fill="#0a8a8a"/><path d="M648.50,84.70 L648.50,87.95 L646.55,87.95 Z" fill="#fff"/><path d="M649.10,84.50 L653.20,91.50 L645.00,91.50 Z" fill="#0a8a8a"/><path d="M648.50,87.30 L648.50,90.55 L646.55,90.55 Z" fill="#fff"/><path d="M649.10,92.60 L653.20,99.60 L645.00,99.60 Z" fill="#0a8a8a"/><path d="M648.50,95.40 L648.50,98.65 L646.55,98.65 Z" fill="#fff"/><path d="M649.10,112.50 L653.20,119.50 L645.00,119.50 Z" fill="#0a8a8a"/><path d="M648.50,115.30 L648.50,118.55 L646.55,118.55 Z" fill="#fff"/><path d="M649.10,124.50 L653.20,131.50 L645.00,131.50 Z" fill="#0a8a8a"/><path d="M648.50,127.30 L648.50,130.55 L646.55,130.55 Z" fill="#fff"/><path d="M649.10,127.50 L653.20,134.50 L645.00,134.50 Z" fill="#0a8a8a"/><path d="M648.50,130.30 L648.50,133.55 L646.55,133.55 Z" fill="#fff"/><path d="M649.10,134.20 L653.20,141.20 L645.00,141.20 Z" fill="#0a8a8a"/><path d="M648.50,137.00 L648.50,140.25 L646.55,140.25 Z" fill="#fff"/><path d="M649.10,147.30 L653.20,154.30 L645.00,154.30 Z" fill="#0a8a8a"/><path d="M648.50,150.10 L648.50,153.35 L646.55,153.35 Z" fill="#fff"/><path d="M649.10,156.50 L653.20,163.50 L645.00,163.50 Z" fill="#0a8a8a"/><path d="M648.50,159.30 L648.50,162.55 L646.55,162.55 Z" fill="#fff"/><path d="M649.10,168.60 L653.20,175.60 L645.00,175.60 Z" fill="#0a8a8a"/><path d="M648.50,171.40 L648.50,174.65 L646.55,174.65 Z" fill="#fff"/><path d="M643.70,156.50 L647.80,163.50 L639.60,163.50 Z" fill="#0a8a8a"/><path d="M643.10,159.30 L643.10,162.55 L641.15,162.55 Z" fill="#fff"/><path d="M449.90,123.80 L458.10,123.80 L454.00,130.80 Z" fill="#ff0000"/><path d="M454.60,124.80 L456.55,124.80 L454.60,128.00 Z" fill="#fff"/><path d="M449.90,137.60 L458.10,137.60 L454.00,144.60 Z" fill="#ff0000"/><path d="M454.60,138.60 L456.55,138.60 L454.60,141.80 Z" fill="#fff"/><path d="M473.50,133.00 L481.70,133.00 L477.60,140.00 Z" fill="#ff0000"/><path d="M478.20,134.00 L480.15,134.00 L478.20,137.20 Z" fill="#fff"/><path d="M473.50,136.40 L481.70,136.40 L477.60,143.40 Z" fill="#ff0000"/><path d="M478.20,137.40 L480.15,137.40 L478.20,140.60 Z" fill="#fff"/><path d="M473.50,139.80 L481.70,139.80 L477.60,146.80 Z" fill="#ff0000"/><path d="M478.20,140.80 L480.15,140.80 L478.20,144.00 Z" fill="#fff"/><path d="M473.50,143.20 L481.70,143.20 L477.60,150.20 Z" fill="#ff0000"/><path d="M478.20,144.20 L480.15,144.20 L478.20,147.40 Z" fill="#fff"/><path d="M473.50,146.60 L481.70,146.60 L477.60,153.60 Z" fill="#ff0000"/><path d="M478.20,147.60 L480.15,147.60 L478.20,150.80 Z" fill="#fff"/><path d="M473.50,150.00 L481.70,150.00 L477.60,157.00 Z" fill="#ff0000"/><path d="M478.20,151.00 L480.15,151.00 L478.20,154.20 Z" fill="#fff"/><path d="M484.60,96.10 L492.80,96.10 L488.70,103.10 Z" fill="#ff0000"/><path d="M489.30,97.10 L491.25,97.10 L489.30,100.30 Z" fill="#fff"/><path d="M505.60,57.20 L513.80,57.20 L509.70,64.20 Z" fill="#ff0000"/><path d="M510.30,58.20 L512.25,58.20 L510.30,61.40 Z" fill="#fff"/><path d="M505.60,98.30 L513.80,98.30 L509.70,105.30 Z" fill="#ff0000"/><path d="M510.30,99.30 L512.25,99.30 L510.30,102.50 Z" fill="#fff"/><path d="M505.60,102.30 L513.80,102.30 L509.70,109.30 Z" fill="#ff0000"/><path d="M510.30,103.30 L512.25,103.30 L510.30,106.50 Z" fill="#fff"/><path d="M493.90,114.50 L502.10,114.50 L498.00,121.50 Z" fill="#ff0000"/><path d="M498.60,115.50 L500.55,115.50 L498.60,118.70 Z" fill="#fff"/><path d="M493.90,118.14 L502.10,118.14 L498.00,125.14 Z" fill="#ff0000"/><path d="M498.60,119.14 L500.55,119.14 L498.60,122.34 Z" fill="#fff"/><path d="M493.90,121.77 L502.10,121.77 L498.00,128.77 Z" fill="#ff0000"/><path d="M498.60,122.77 L500.55,122.77 L498.60,125.97 Z" fill="#fff"/><path d="M493.90,125.41 L502.10,125.41 L498.00,132.41 Z" fill="#ff0000"/><path d="M498.60,126.41 L500.55,126.41 L498.60,129.61 Z" fill="#fff"/><path d="M493.90,129.05 L502.10,129.05 L498.00,136.05 Z" fill="#ff0000"/><path d="M498.60,130.05 L500.55,130.05 L498.60,133.25 Z" fill="#fff"/><path d="M493.90,132.68 L502.10,132.68 L498.00,139.68 Z" fill="#ff0000"/><path d="M498.60,133.68 L500.55,133.68 L498.60,136.88 Z" fill="#fff"/><path d="M493.90,136.32 L502.10,136.32 L498.00,143.32 Z" fill="#ff0000"/><path d="M498.60,137.32 L500.55,137.32 L498.60,140.52 Z" fill="#fff"/><path d="M493.90,139.95 L502.10,139.95 L498.00,146.95 Z" fill="#ff0000"/><path d="M498.60,140.95 L500.55,140.95 L498.60,144.15 Z" fill="#fff"/><path d="M493.90,143.59 L502.10,143.59 L498.00,150.59 Z" fill="#ff0000"/><path d="M498.60,144.59 L500.55,144.59 L498.60,147.79 Z" fill="#fff"/><path d="M493.90,147.23 L502.10,147.23 L498.00,154.23 Z" fill="#ff0000"/><path d="M498.60,148.23 L500.55,148.23 L498.60,151.43 Z" fill="#fff"/><path d="M493.90,150.86 L502.10,150.86 L498.00,157.86 Z" fill="#ff0000"/><path d="M498.60,151.86 L500.55,151.86 L498.60,155.06 Z" fill="#fff"/><path d="M493.90,154.50 L502.10,154.50 L498.00,161.50 Z" fill="#ff0000"/><path d="M498.60,155.50 L500.55,155.50 L498.60,158.70 Z" fill="#fff"/><path d="M505.60,121.00 L513.80,121.00 L509.70,128.00 Z" fill="#ff0000"/><path d="M510.30,122.00 L512.25,122.00 L510.30,125.20 Z" fill="#fff"/><path d="M505.60,124.50 L513.80,124.50 L509.70,131.50 Z" fill="#ff0000"/><path d="M510.30,125.50 L512.25,125.50 L510.30,128.70 Z" fill="#fff"/><path d="M505.60,132.50 L513.80,132.50 L509.70,139.50 Z" fill="#ff0000"/><path d="M510.30,133.50 L512.25,133.50 L510.30,136.70 Z" fill="#fff"/><path d="M505.60,136.60 L513.80,136.60 L509.70,143.60 Z" fill="#ff0000"/><path d="M510.30,137.60 L512.25,137.60 L510.30,140.80 Z" fill="#fff"/><path d="M505.60,140.70 L513.80,140.70 L509.70,147.70 Z" fill="#ff0000"/><path d="M510.30,141.70 L512.25,141.70 L510.30,144.90 Z" fill="#fff"/><path d="M505.60,144.80 L513.80,144.80 L509.70,151.80 Z" fill="#ff0000"/><path d="M510.30,145.80 L512.25,145.80 L510.30,149.00 Z" fill="#fff"/><path d="M505.60,148.90 L513.80,148.90 L509.70,155.90 Z" fill="#ff0000"/><path d="M510.30,149.90 L512.25,149.90 L510.30,153.10 Z" fill="#fff"/><path d="M505.60,153.00 L513.80,153.00 L509.70,160.00 Z" fill="#ff0000"/><path d="M510.30,154.00 L512.25,154.00 L510.30,157.20 Z" fill="#fff"/><path d="M490.90,166.00 L499.10,166.00 L495.00,173.00 Z" fill="#ff0000"/><path d="M495.60,167.00 L497.55,167.00 L495.60,170.20 Z" fill="#fff"/><path d="M533.60,156.00 L541.80,156.00 L537.70,163.00 Z" fill="#ff0000"/><path d="M538.30,157.00 L540.25,157.00 L538.30,160.20 Z" fill="#fff"/><path d="M533.60,160.00 L541.80,160.00 L537.70,167.00 Z" fill="#ff0000"/><path d="M538.30,161.00 L540.25,161.00 L538.30,164.20 Z" fill="#fff"/><path d="M544.50,126.00 L552.70,126.00 L548.60,133.00 Z" fill="#ff0000"/><path d="M549.20,127.00 L551.15,127.00 L549.20,130.20 Z" fill="#fff"/><path d="M545.00,140.30 L553.20,140.30 L549.10,147.30 Z" fill="#ff0000"/><path d="M549.70,141.30 L551.65,141.30 L549.70,144.50 Z" fill="#fff"/><path d="M584.40,102.00 L592.60,102.00 L588.50,109.00 Z" fill="#ff0000"/><path d="M589.10,103.00 L591.05,103.00 L589.10,106.20 Z" fill="#fff"/><path d="M584.40,124.30 L592.60,124.30 L588.50,131.30 Z" fill="#ff0000"/><path d="M589.10,125.30 L591.05,125.30 L589.10,128.50 Z" fill="#fff"/><path d="M593.80,142.50 L602.00,142.50 L597.90,149.50 Z" fill="#ff0000"/><path d="M598.50,143.50 L600.45,143.50 L598.50,146.70 Z" fill="#fff"/><path d="M593.80,151.20 L602.00,151.20 L597.90,158.20 Z" fill="#ff0000"/><path d="M598.50,152.20 L600.45,152.20 L598.50,155.40 Z" fill="#fff"/><circle cx="93.50" cy="15.90" r="3.5" fill="#000000"/><path d="M93.95,14.05 A1.45,1.85 0 0 1 93.95,17.75 Z" fill="#fff"/><path d="M93.50,27.10 L97.60,34.10 L89.40,34.10 Z" fill="#0a8a8a"/><path d="M92.90,29.90 L92.90,33.15 L90.95,33.15 Z" fill="#fff"/><rect x="218.00" y="12.90" width="6.0" height="6.0" fill="#0000ff"/><rect x="219.25" y="14.10" width="1.45" height="3.60" fill="#fff"/><path d="M184.40,28.80 L192.60,28.80 L188.50,35.80 Z" fill="#ff0000"/><path d="M189.10,29.80 L191.05,29.80 L189.10,33.00 Z" fill="#fff"/><text x="107.50" y="20.05" font-size="12.7">deformed cut sheet</text><text x="107.50" y="35.9" font-size="12.7">straight wire</text><text x="235.10" y="20.05" font-size="12.7">ingot mill</text><text x="202.20" y="35.9" font-size="12.7">crimped/indented wire</text><circle cx="450.70" cy="15.90" r="3.5" fill="#000000"/><path d="M451.15,14.05 A1.45,1.85 0 0 1 451.15,17.75 Z" fill="#fff"/><path d="M450.70,27.10 L454.80,34.10 L446.60,34.10 Z" fill="#0a8a8a"/><path d="M450.10,29.90 L450.10,33.15 L448.15,33.15 Z" fill="#fff"/><rect x="575.20" y="12.90" width="6.0" height="6.0" fill="#0000ff"/><rect x="576.45" y="14.10" width="1.45" height="3.60" fill="#fff"/><path d="M541.60,28.80 L549.80,28.80 L545.70,35.80 Z" fill="#ff0000"/><path d="M546.30,29.80 L548.25,29.80 L546.30,33.00 Z" fill="#fff"/><text x="464.70" y="20.05" font-size="12.7">deformed cut sheet</text><text x="464.70" y="35.9" font-size="12.7">straight wire</text><text x="592.30" y="20.05" font-size="12.7">ingot mill</text><text x="559.40" y="35.9" font-size="12.7">crimped/indented wire</text></svg></body></html>
